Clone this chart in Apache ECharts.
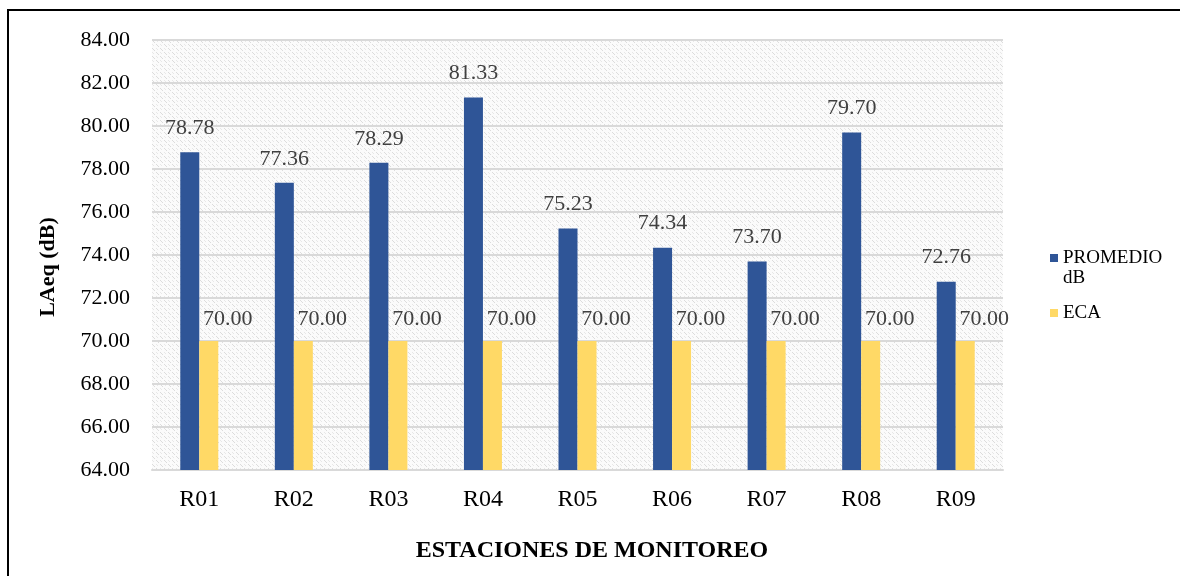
<!DOCTYPE html>
<html>
<head>
<meta charset="utf-8">
<script src="https://cdn.jsdelivr.net/npm/echarts@6/dist/echarts.min.js"></script>
<style>
html,body{margin:0;padding:0;background:#fff;}
#chart{width:1180px;height:576px;}
</style>
</head>
<body>
<div id="chart"></div>
<script>
const categories = ['R01','R02','R03','R04','R05','R06','R07','R08','R09'];
const promedio = [78.78, 77.36, 78.29, 81.33, 75.23, 74.34, 73.70, 79.70, 72.76];
const eca = [70.00, 70.00, 70.00, 70.00, 70.00, 70.00, 70.00, 70.00, 70.00];
const seriesNames = ['PROMEDIO dB', 'ECA'];
const yTitle = 'LAeq (dB)';
const xTitle = 'ESTACIONES DE MONITOREO';

// hatch pattern tile
const tile = document.createElement('canvas');
tile.width = 8; tile.height = 8;
const tc = tile.getContext('2d');
tc.fillStyle = '#fbfbfb';
tc.fillRect(0,0,8,8);
tc.fillStyle = '#dcdcdc';
[[0,0],[1,1],[2,2],[4,4],[5,5],[6,6]].forEach(p=>tc.fillRect(p[0],p[1],1,1));
tc.fillStyle = '#e8e8e8';
[[4,0],[5,1],[0,4],[1,5]].forEach(p=>tc.fillRect(p[0],p[1],1,1));

const serif = 'Liberation Serif';
const chart = echarts.init(document.getElementById('chart'), null, {renderer:'canvas'});
chart.setOption({
  animation:false,
  textStyle:{fontFamily:serif},
  grid:{left:152,right:177,top:40,bottom:106,show:true,borderWidth:0,
        backgroundColor:{image:tile,repeat:'repeat'}},
  legend:{
    orient:'vertical', left:1045, top:223, itemWidth:8, itemHeight:8, itemGap:15,
    icon:'rect',
    textStyle:{fontFamily:serif,fontSize:19,color:'#000',lineHeight:20},
    formatter:function(n){return n==='PROMEDIO dB' ? ' \nPROMEDIO\ndB' : n;},
    data:[seriesNames[0],seriesNames[1]]
  },
  xAxis:{
    type:'category', data:categories,
    axisTick:{show:false},
    axisLine:{lineStyle:{color:'#d9d9d9',width:2}},
    axisLabel:{fontFamily:serif,fontSize:24,color:'#000',margin:18}
  },
  yAxis:{
    type:'value', min:64, max:84, interval:2,
    axisLine:{show:false}, axisTick:{show:false},
    splitLine:{lineStyle:{color:'#d9d9d9',width:2}},
    axisLabel:{fontFamily:serif,fontSize:22,color:'#000',margin:22,
      formatter:function(v){return v.toFixed(2);}}
  },
  series:[
    {name:seriesNames[0],type:'bar',data:promedio,barWidth:19,barGap:'0%',
     itemStyle:{color:'#2F5597'},
     label:{show:true,position:'top',distance:13,fontFamily:serif,fontSize:22,color:'#404040',
       formatter:function(p){return p.value.toFixed(2);}}},
    {name:seriesNames[1],type:'bar',data:eca,barWidth:19,barGap:'0%',
     itemStyle:{color:'#FFD966'},
     label:{show:true,position:'top',distance:11,offset:[19,0],fontFamily:serif,fontSize:22,color:'#404040',
       formatter:function(p){return p.value.toFixed(2);}}}
  ],
  graphic:[
    {type:'rect',shape:{x:8,y:10,width:1200,height:600},style:{fill:'none',stroke:'#000',lineWidth:2},silent:true,z:-1},
    {type:'text',x:48,y:267,rotation:Math.PI/2,
     style:{text:yTitle,fontFamily:serif,fontWeight:'bold',fontSize:22,fill:'#000',align:'center',verticalAlign:'middle'}},
    {type:'text',x:592,y:551,
     style:{text:xTitle,fontFamily:serif,fontWeight:'bold',fontSize:24,fill:'#000',align:'center',verticalAlign:'middle'}}
  ]
});
</script>
</body>
</html>
